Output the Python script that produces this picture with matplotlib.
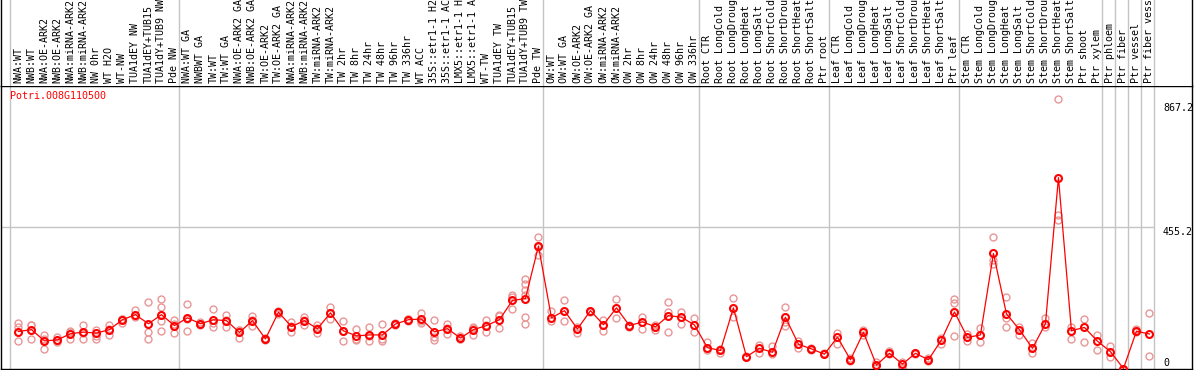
import matplotlib.pyplot as plt
import numpy as np

gene = "Potri.008G110500"

samples = [
    "NWA:WT", "NWB:WT", "NWA:OE-ARK2", "NWB:OE-ARK2", "NWA:miRNA-ARK2", "NWB:miRNA-ARK2",
    "NW 0hr", "WT H2O", "WT-NW", "TUA1dEY NW", "TUA1dEY+TUB15", "TUA1dY+TUB9 NW", "Pde NW",
    "NWA:WT GA", "NWBWT GA", "TW:WT", "TW:WT GA", "NWA:OE-ARK2 GA", "NWB:OE-ARK2 GA",
    "TW:OE-ARK2", "TW:OE-ARK2 GA", "NWA:miRNA-ARK2", "NWB:miRNA-ARK2", "TW:miRNA-ARK2",
    "TW:miRNA-ARK2", "TW 2hr", "TW 8hr", "TW 24hr", "TW 48hr", "TW 96hr", "TW 336hr",
    "WT ACC", "35S::etr1-1 H2", "35S::etr1-1 AC", "LMX5::etr1-1 H", "LMX5::etr1-1 A",
    "WT-TW", "TUA1dEY TW", "TUA1dEY+TUB15", "TUA1dY+TUB9 TW", "Pde TW",
    "OW:WT", "OW:WT GA", "OW:OE-ARK2", "OW:OE-ARK2 GA", "OW:miRNA-ARK2", "OW:miRNA-ARK2",
    "OW 2hr", "OW 8hr", "OW 24hr", "OW 48hr", "OW 96hr", "OW 336hr",
    "Root CTR", "Root LongCold", "Root LongDroug", "Root LongHeat", "Root LongSalt",
    "Root ShortCold", "Root ShortDrou", "Root ShortHeat", "Root ShortSalt", "Ptr root",
    "Leaf CTR", "Leaf LongCold", "Leaf LongDroug", "Leaf LongHeat", "Leaf LongSalt",
    "Leaf ShortCold", "Leaf ShortDrou", "Leaf ShortHeat", "Leaf ShortSalt", "Ptr leaf",
    "Stem CTR", "Stem LongCold", "Stem LongDroug", "Stem LongHeat", "Stem LongSalt",
    "Stem ShortCold", "Stem ShortDrou", "Stem ShortHeat", "Stem ShortSalt", "Ptr shoot",
    "Ptr xylem",
    "Ptr phloem", "Ptr fiber", "Ptr vessel", "Ptr fiber vess",
]
group_sizes = [13, 28, 12, 10, 10, 11, 1, 1, 1, 1]

means = [
    119, 125, 89, 92, 112, 117, 114, 125, 157, 173, 144, 173, 138,
    163, 144, 157, 154, 116, 154, 95, 181, 135, 154, 128, 179, 121, 105, 108, 108,
    143, 157, 159, 118, 128, 98, 125, 138, 157, 219, 225, 394,
    163, 186, 127, 186, 141, 195, 138, 150, 134, 170, 165, 140,
    67, 58, 195, 38, 65, 52, 165, 78, 63, 46,
    101, 28, 116, 11, 49, 14, 49, 28, 92, 182,
    100, 108, 370, 176, 125, 65, 144, 614, 122, 132, 88,
    54, 0, 120, 111,
]

replicates = [
    [146, 133, 87], [139, 95, 141], [109, 62, 96], [101, 84, 92], [122, 95, 118],
    [141, 96, 115], [125, 103, 95], [139, 109, 127], [159, 146, 160], [187, 166, 168],
    [214, 119, 95], [222, 198, 152, 121], [157, 114, 142],
    [208, 121, 160], [148, 141, 143], [190, 135, 146], [173, 133, 156], [125, 98, 124],
    [168, 138, 156], [95, 97, 93], [184, 176, 182], [148, 119, 138], [166, 141, 155],
    [141, 114, 129], [197, 160, 180], [154, 89, 120], [128, 92, 95], [132, 89, 103],
    [143, 87, 95], [146, 140, 143], [159, 154, 158], [177, 146, 154], [157, 101, 92],
    [143, 112, 129], [103, 95, 96], [135, 109, 131], [155, 119, 140], [173, 130, 168],
    [235, 192, 230], [287, 271, 254, 238, 166, 143], [424, 365, 390],
    [184, 152], [219, 152], [114, 135], [186, 183], [157, 122], [225, 163], [141, 135],
    [165, 128], [141, 125], [214, 181, 117], [181, 143], [163, 119],
    [84, 60], [62, 51], [227, 166], [40, 36], [76, 51], [73, 46], [198, 148, 138],
    [89, 65], [67, 60], [49],
    [114, 78], [33, 25], [125, 109], [22, 8], [57, 46], [22, 6], [51, 47], [33, 25],
    [98, 79], [225, 211, 105],
    [112, 87], [130, 85], [422, 349, 337], [231, 163, 135], [135, 109], [82, 51],
    [163, 135], [867.2, 493, 478], [134, 94], [158, 86], [108, 60],
    [73, 38], [0, 0], [126, 118], [178, 40],
]

y_top = 910.4
y_mid = 455.2
y_max = 867.2

plt.rcParams["font.family"] = ["DejaVu Sans Mono"]
plt.rcParams["font.size"] = 7.2

W, H = 1194, 370
fig = plt.figure(figsize=(W / 100, H / 100), dpi=100)

# layout in pixels
left, right = 1, 1192
head_bot, plot_bot = 85.5, 368.5
ax = fig.add_axes([left / W, 1 - plot_bot / H, (right - left) / W, (plot_bot - head_bot) / H])
hx = fig.add_axes([left / W, 1 - head_bot / H, (right - left) / W, head_bot / H])

# 13 px per sample, first slot starts at x=10
x_lo = (left - 16.5) / 13
x_hi = (right - 16.5) / 13
for a in (ax, hx):
    a.set_xlim(x_lo, x_hi)
    a.set_xticks([])
    a.set_yticks([])
    for s in a.spines.values():
        s.set_color("black")
        s.set_linewidth(1.0)
hx.set_ylim(0, 1)
hx.spines["top"].set_visible(False)
hx.spines["bottom"].set_visible(False)
ax.set_ylim(0, y_top)

n = len(samples)
x = np.arange(n) + 0.15
bounds = np.cumsum([0] + group_sizes) - 0.5
for b in bounds:
    ax.axvline(b, color="#c4c4c4", lw=1.0, zorder=1)
    hx.axvline(b, color="#c4c4c4", lw=1.0, zorder=1)
ax.hlines(y_mid, x_lo, bounds[-1], color="#c4c4c4", lw=1.0, zorder=1)

# replicates
for xi, reps in zip(x, replicates):
    ax.plot([xi] * len(reps), reps, "o", ms=5, mfc="none", mec="#e99696",
            mew=1.0, zorder=2, clip_on=False)

# means
ax.plot(x, means, "-", color="red", lw=0.9, zorder=3, clip_on=False)
ax.plot(x, means, "o", ms=5, mfc="none", mec="red", mew=1.5, zorder=4, clip_on=False)

# sample labels
for xi, lab in zip(x, samples):
    hx.text(xi, 0.03, lab, rotation=90, ha="center", va="bottom", clip_on=True)

ax.text(0.0076, 1 - 5.5 / 283, gene, color="red", ha="left", va="top",
        transform=ax.transAxes)

ytr = ax.get_yaxis_transform()
lx = (1163 - left) / (right - left)
ax.annotate("%.1f" % y_max, (lx, y_max), xycoords=ytr, xytext=(0, -9),
            textcoords="offset pixels", va="center", ha="left", annotation_clip=False)
ax.annotate("%.1f" % y_mid, (lx, y_mid), xycoords=ytr, xytext=(0, -5),
            textcoords="offset pixels", va="center", ha="left")
ax.annotate("0", (lx, 0), xycoords=ytr, xytext=(0, 6),
            textcoords="offset pixels", va="center", ha="left")

fig.savefig("out.png", dpi=100)
